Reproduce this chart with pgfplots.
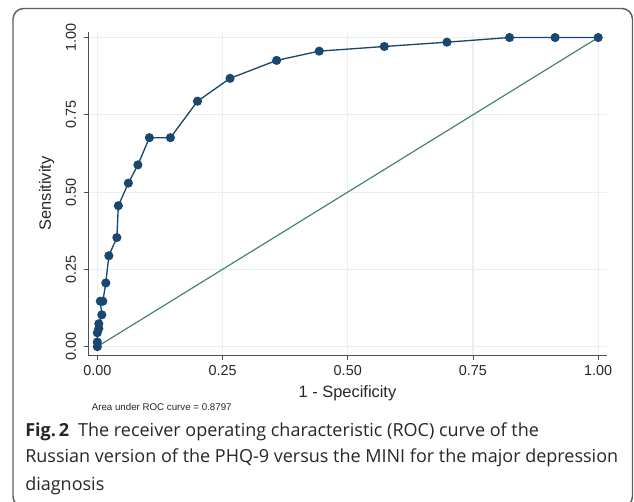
\documentclass[border=0pt]{standalone}
\usepackage{pgfplots}
\pgfplotsset{compat=1.18}
\usepackage{fontspec}
\setmainfont{Liberation Sans}
\newfontfamily\capfont{Open Sans}
\definecolor{navy}{RGB}{26,71,111}
\definecolor{refgreen}{RGB}{72,132,108}
\definecolor{gridc}{RGB}{232,240,242}
\definecolor{axc}{RGB}{80,80,80}
\definecolor{framec}{RGB}{95,95,95}

\begin{document}
\begin{tikzpicture}
% page frame and caption, in pixel units of the reference (origin top left)
\begin{scope}[x=0.75pt,y=-0.75pt,shift={(-66.225pt,266.25pt)}]
  \useasboundingbox (0,0) rectangle (634,502);
  \begin{scope}
    \clip (0,0) rectangle (634,502);
    \draw[framec, line width=1.1pt, rounded corners=8pt] (13,8.5) rectangle (632.5,507);
  \end{scope}
  \node[anchor=base west, inner sep=0pt, font=\fontsize{7.3}{8}\selectfont, text=black!85]
    at (91.5,411) {Area under ROC curve = 0.8797};
  \node[anchor=base west, inner sep=0pt, text=black!85, font=\capfont\fontsize{13.5}{20.25}\selectfont]
    at (25,436) {\textbf{Fig.\,2}\enspace The receiver operating characteristic (ROC) curve of the};
  \node[anchor=base west, inner sep=0pt, text=black!85, font=\capfont\fontsize{13.5}{20.25}\selectfont]
    at (25,463) {Russian version of the PHQ-9 versus the MINI for the major depression};
  \node[anchor=base west, inner sep=0pt, text=black!85, font=\capfont\fontsize{13.5}{20.25}\selectfont]
    at (25,490) {diagnosis};
\end{scope}

\begin{axis}[
  scale only axis,
  width=388.8pt, height=242.5pt,
  xmin=-0.018, xmax=1.017,
  ymin=-0.027, ymax=1.019,
  axis x line*=bottom, axis y line*=left,
  axis line style={axc, line width=0.6pt},
  xtick={0,0.25,0.5,0.75,1}, ytick={0,0.25,0.5,0.75,1},
  xticklabels={0.00,0.25,0.50,0.75,1.00},
  yticklabels={0.00,0.25,0.50,0.75,1.00},
  tick align=outside, major tick length=3.5pt,
  tick style={axc, line width=0.6pt},
  grid=major, grid style={gridc, line width=0.8pt},
  ticklabel style={font=\fontsize{10.8}{12}\selectfont, text=black!85},
  /pgf/number format/assume math mode=true,
  yticklabel style={rotate=90, anchor=south, inner sep=0pt, yshift=5.5pt},
  xticklabel style={inner sep=0pt, yshift=-4pt},
  xlabel={1 - Specificity}, ylabel={Sensitivity},
  label style={font=\fontsize{12.3}{14}\selectfont, text=black!85},
  xlabel style={at={(axis description cs:0.5,0)}, anchor=base, yshift=-32pt, inner sep=0pt},
  ylabel style={at={(axis description cs:0,0.5)}, anchor=base, inner sep=0pt, yshift=28pt},
  clip=false,
]
\addplot[refgreen, line width=0.9pt] coordinates {(0,0) (1,1)};
\addplot[navy, line width=1pt, mark=*, mark size=2.9pt, mark options={fill=navy, draw=navy}]
coordinates {
(0,0) (0,0.015) (0,0.045) (0.003,0.059) (0.003,0.074) (0.009,0.103)
(0.006,0.147) (0.011,0.147) (0.017,0.206) (0.023,0.294) (0.039,0.353)
(0.042,0.456) (0.062,0.529) (0.081,0.588) (0.104,0.676) (0.146,0.676)
(0.200,0.794) (0.265,0.868) (0.358,0.926) (0.443,0.956) (0.573,0.971)
(0.698,0.985) (0.823,1) (0.914,1) (1,1)
};
\end{axis}
\end{tikzpicture}
\end{document}
